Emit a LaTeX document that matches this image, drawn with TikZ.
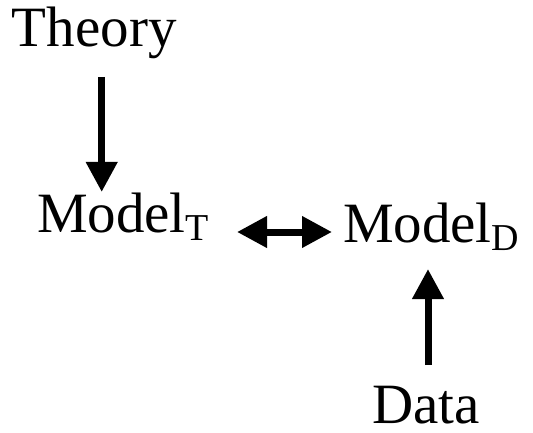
\documentclass[tikz,border=0pt]{standalone}
\usepackage{fontspec}
\setmainfont{Liberation Serif}
\usetikzlibrary{arrows.meta}
\newcommand{\lowsub}[1]{\raisebox{-8pt}{\fontsize{38}{38}\selectfont #1}}
\begin{document}
\begin{tikzpicture}[x=1pt,y=1pt,
  lbl/.style={inner sep=0pt, outer sep=0pt, anchor=base west,
              font=\fontsize{57}{60}\selectfont},
  arr/.style={line width=7pt, -{Triangle[length=30pt,width=30pt]}},
  dblarr/.style={line width=7pt, {Triangle[length=30pt,width=30pt]}-{Triangle[length=30pt,width=30pt]}}]
  \useasboundingbox (0,0) rectangle (533,-433);
  % labels
  \node[lbl] (theory) at (12,-47) {Theory};
  \node[lbl] (modelT) at (37,-232) {Model\lowsub{T}};
  \node[lbl] (modelD) at (343,-242) {Model\lowsub{D}};
  \node[lbl] (data)   at (372,-423) {Data};
  % connectors
  \draw[arr] ([shift={(89.7,-30)}]theory.base west) -- ([shift={(64.7,40)}]modelT.base west);
  \draw[dblarr] ([shift={(200,0)}]modelT.base west) -- ([shift={(-11,10)}]modelD.base west);
  \draw[arr] ([shift={(56,58)}]data.base west) -- ([shift={(85,-27)}]modelD.base west);
\end{tikzpicture}
\end{document}
